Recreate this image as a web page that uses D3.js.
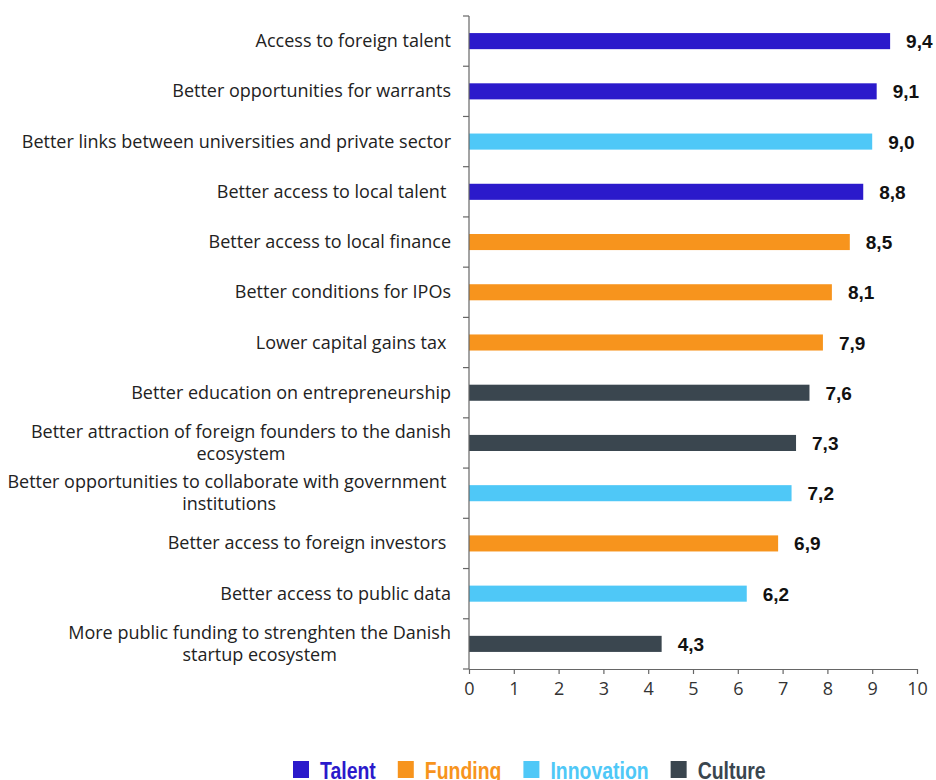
<!DOCTYPE html>
<html>
<head>
<meta charset="utf-8">
<script src="https://cdn.jsdelivr.net/npm/d3@7"></script>
<style>
  html, body { margin: 0; padding: 0; background: #ffffff; }
  svg { display: block; }
  text { white-space: pre; }
</style>
</head>
<body>
<svg id="chart" width="936" height="780"></svg>
<script>
// Survey priorities, average score per initiative (0-10)
const categories = [
  ["Access to foreign talent"],
  ["Better opportunities for warrants"],
  ["Better links between universities and private sector"],
  ["Better access to local talent "],
  ["Better access to local finance"],
  ["Better conditions for IPOs"],
  ["Lower capital gains tax "],
  ["Better education on entrepreneurship"],
  ["Better attraction of foreign founders to the danish", "ecosystem"],
  ["Better opportunities to collaborate with government ", "institutions"],
  ["Better access to foreign investors "],
  ["Better access to public data"],
  ["More public funding to strenghten the Danish", "startup ecosystem"]
];
const values = [9.4, 9.1, 9.0, 8.8, 8.5, 8.1, 7.9, 7.6, 7.3, 7.2, 6.9, 6.2, 4.3];
const groups = ["Talent", "Talent", "Innovation", "Talent", "Funding", "Funding", "Funding",
                "Culture", "Culture", "Innovation", "Funding", "Innovation", "Culture"];
const groupNames = ["Talent", "Funding", "Innovation", "Culture"];
const groupColors = ["#2b1acb", "#f7941d", "#4fc8f7", "#3a464f"];
const xTicks = [0, 1, 2, 3, 4, 5, 6, 7, 8, 9, 10];

const rows = categories.map((lines, i) => ({ id: i, lines, value: values[i], group: groups[i] }));

const svg = d3.select("#chart");
const plotLeft = 469, plotRight = 917, plotTop = 16, plotBottom = 669;

const x = d3.scaleLinear().domain([0, 10]).range([plotLeft, plotRight]);
const y = d3.scaleBand().domain(rows.map(d => d.id)).range([plotTop, plotBottom])
  .paddingInner(0.68).paddingOuter(0.34);
const color = d3.scaleOrdinal().domain(groupNames).range(groupColors);
const step = y.step();

// Bars
svg.append("g").selectAll("rect").data(rows).join("rect")
  .attr("x", x(0))
  .attr("y", d => y(d.id))
  .attr("width", d => x(d.value) - x(0))
  .attr("height", y.bandwidth())
  .attr("fill", d => color(d.group));

// Value labels
svg.append("g").selectAll("text").data(rows).join("text")
  .attr("x", d => x(d.value) + 16)
  .attr("y", d => y(d.id) + y.bandwidth() / 2 + 7)
  .attr("font-family", "'Liberation Sans', Arial, sans-serif")
  .attr("font-weight", "bold")
  .attr("font-size", 19)
  .attr("fill", "#111")
  .text(d => d3.format(".1f")(d.value).replace(".", ","));

// Category labels (right aligned, continuation lines centred under the first)
const labelFont = "'Open Sans', sans-serif";
const labelSize = 18;
const labelG = svg.append("g");
rows.forEach(d => {
  const cy = y(d.id) + y.bandwidth() / 2;
  if (d.lines.length === 1) {
    labelG.append("text")
      .attr("x", 451).attr("y", cy + 6)
      .attr("text-anchor", "end")
      .attr("font-family", labelFont).attr("font-size", labelSize).attr("fill", "#222")
      .text(d.lines[0]);
  } else {
    const first = labelG.append("text")
      .attr("x", 451).attr("y", cy - 5)
      .attr("text-anchor", "end")
      .attr("font-family", labelFont).attr("font-size", labelSize).attr("fill", "#222")
      .text(d.lines[0]);
    const w = first.node().getComputedTextLength();
    labelG.append("text")
      .attr("x", 451 - w / 2).attr("y", cy + 17)
      .attr("text-anchor", "middle")
      .attr("font-family", labelFont).attr("font-size", labelSize).attr("fill", "#222")
      .text(d.lines[1]);
  }
});

// Vertical axis with ticks between rows
const yAxisG = svg.append("g").attr("stroke", "#666").attr("stroke-width", 1.2);
yAxisG.append("line").attr("x1", plotLeft).attr("x2", plotLeft).attr("y1", plotTop).attr("y2", plotBottom);
yAxisG.selectAll(".yt").data(d3.range(rows.length + 1)).join("line")
  .attr("x1", plotLeft - 6).attr("x2", plotLeft)
  .attr("y1", i => plotTop + i * step).attr("y2", i => plotTop + i * step);

// Horizontal axis
const xAxis = d3.axisBottom(x).tickValues(xTicks).tickSize(5).tickSizeOuter(0).tickPadding(8);
const xg = svg.append("g").attr("transform", `translate(0,${plotBottom})`).call(xAxis);
xg.select(".domain").attr("stroke", "#666").attr("stroke-width", 1.2);
xg.selectAll(".tick line").attr("stroke", "#666").attr("stroke-width", 1.2);
xg.selectAll(".tick text")
  .attr("font-family", labelFont).attr("font-size", 18).attr("fill", "#333");

// Legend (bold, horizontally condensed type)
const legend = svg.append("g");
const squeeze = 0.81;
let lx = 293;
groupNames.forEach(g => {
  legend.append("rect")
    .attr("x", lx).attr("y", 761).attr("width", 16).attr("height", 17)
    .attr("fill", color(g));
  const t = legend.append("text")
    .attr("transform", `translate(${lx + 27},779) scale(${squeeze},1)`)
    .attr("font-family", "'Liberation Sans', Arial, sans-serif")
    .attr("font-weight", "bold").attr("font-size", 24)
    .attr("fill", color(g))
    .text(g);
  lx += 27 + t.node().getComputedTextLength() * squeeze + 22;
});
</script>
</body>
</html>
